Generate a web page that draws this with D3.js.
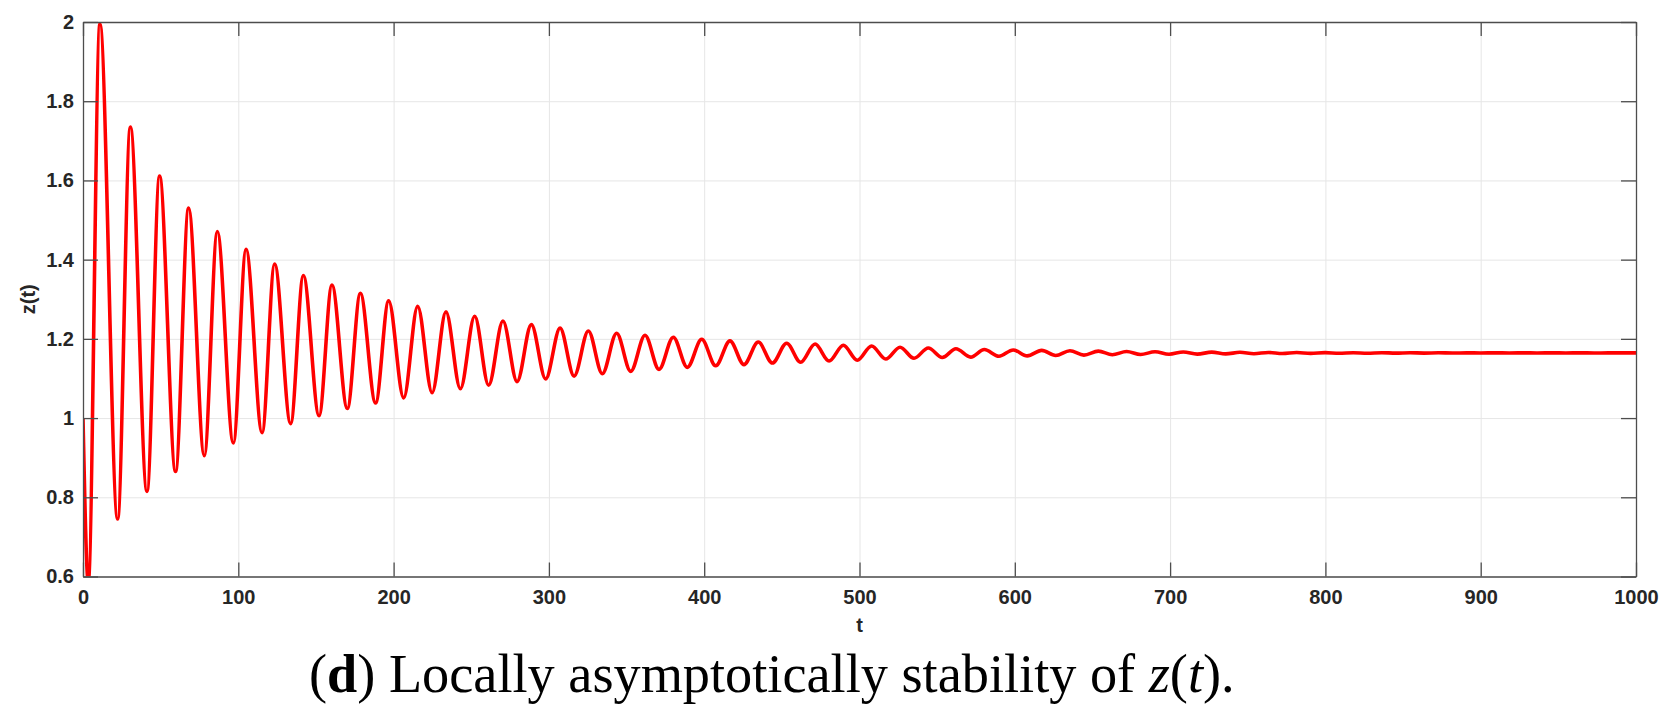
<!DOCTYPE html>
<html>
<head>
<meta charset="utf-8">
<script src="https://cdn.jsdelivr.net/npm/d3@7"></script>
<style>
  body { margin: 0; background: #fff; }
  .axis text { font-family: 'Liberation Sans', Arial, sans-serif; font-weight: bold; font-size: 20px; fill: #262626; }
  .axis path, .axis line { stroke: #4d4d4d; stroke-width: 1.3; }
  .grid line { stroke: #e6e6e6; stroke-width: 1; }
  .grid path { display: none; }
</style>
</head>
<body>
<div id="chart"></div>
<script>
// start of the run
const startT = [0]
const startZ = [1]

// troughs
const troughT = [3.4, 22.3, 41.2, 59.6, 78.1, 96.8, 115.3, 133.7, 152, 170.2, 188.4, 206.5, 224.8, 243, 261.2,
  279.5, 297.9, 316.2, 334.4, 352.7, 370.9, 389.1, 407.4, 425.6, 443.9, 462.1, 480.4, 498.6, 516.9, 535.1,
  553.3, 571.6, 589.8, 608, 626.3, 644.5, 662.8, 681, 699.3, 717.5, 735.8, 754, 772.3, 790.5, 808.8, 827,
  845.3, 863.5, 881.8, 900, 918.3, 936.5, 954.8, 973, 991.3]
const troughZ = [0.585, 0.745, 0.815, 0.865, 0.905, 0.937, 0.963, 0.986, 1.006, 1.024, 1.038, 1.051, 1.064, 1.074, 1.083,
  1.092, 1.099, 1.106, 1.112, 1.118, 1.123, 1.128, 1.132, 1.135, 1.139, 1.141, 1.144, 1.146, 1.149, 1.151,
  1.153, 1.154, 1.156, 1.157, 1.158, 1.159, 1.160, 1.1605, 1.161, 1.1615, 1.162, 1.1625, 1.163, 1.1633, 1.1636, 1.1638,
  1.164, 1.1641, 1.1642, 1.1643, 1.1643, 1.1644, 1.1644, 1.1644, 1.1645]

// peaks
const peakT = [10.9, 30.5, 49.3, 68, 86.5, 105, 123.4, 141.9, 160.3, 178.6, 196.8, 215.5, 233.7, 252.2, 270.4,
  288.7, 307.2, 325.4, 343.6, 361.9, 380.1, 398.4, 416.6, 434.8, 453.1, 471.4, 489.6, 507.8, 526.1, 544.3,
  562.1, 580.4, 599, 617.3, 635.5, 653.8, 672, 690.3, 708.5, 726.8, 745, 763.3, 781.5, 799.8, 818, 836.3,
  854.5, 872.8, 891, 909.3, 927.5, 945.8, 964, 982.3]
const peakZ = [1.995, 1.735, 1.611, 1.530, 1.471, 1.426, 1.389, 1.360, 1.336, 1.315, 1.296, 1.282, 1.268, 1.257, 1.245,
  1.236, 1.227, 1.220, 1.214, 1.209, 1.204, 1.199, 1.195, 1.192, 1.189, 1.187, 1.184, 1.182, 1.179, 1.177,
  1.175, 1.173, 1.172, 1.171, 1.170, 1.169, 1.168, 1.1675, 1.167, 1.1665, 1.166, 1.1657, 1.1655, 1.1653, 1.1651, 1.165,
  1.1649, 1.1648, 1.1647, 1.1647, 1.1646, 1.1646, 1.1646, 1.1645]

// end of the run
const endT = [1000]
const endZ = [1.1645]

const xTicks = [0, 100, 200, 300, 400, 500, 600, 700, 800, 900, 1000]
const xTickLabels = ['0', '100', '200', '300', '400', '500', '600', '700', '800', '900', '1000']
const yTicks = [0.6, 0.8, 1, 1.2, 1.4, 1.6, 1.8, 2]
const yTickLabels = ['0.6', '0.8', '1', '1.2', '1.4', '1.6', '1.8', '2']

const margin = { top: 22, left: 83, right: 39, bottom: 143.5 }
const totalWidth = 1675
const totalHeight = 720
const width = totalWidth - margin.left - margin.right
const height = totalHeight - margin.top - margin.bottom

const root = d3
  .select('#chart')
  .append('svg')
  .attr('width', totalWidth)
  .attr('height', totalHeight)

const svg = root
  .append('g')
  .attr('transform', 'translate(' + margin.left + ',' + margin.top + ')')

const xPositionScale = d3.scaleLinear().domain([0, 1000]).range([0, width])
const yPositionScale = d3.scaleLinear().domain([0.6, 2]).range([height, 0])

// grid
svg
  .append('g')
  .attr('class', 'grid')
  .attr('transform', 'translate(0,' + height + ')')
  .call(d3.axisBottom(xPositionScale).tickValues(xTicks).tickSize(-height).tickFormat(''))
svg
  .append('g')
  .attr('class', 'grid')
  .call(d3.axisLeft(yPositionScale).tickValues(yTicks).tickSize(-width).tickFormat(''))

// put all the points together in time order
const points = []
startT.forEach((t, i) => points.push({ t: t, z: startZ[i] }))
troughT.forEach((t, i) => points.push({ t: t, z: troughZ[i] }))
peakT.forEach((t, i) => points.push({ t: t, z: peakZ[i] }))
endT.forEach((t, i) => points.push({ t: t, z: endZ[i] }))
points.sort((a, b) => a.t - b.t)

svg
  .append('clipPath')
  .attr('id', 'plot-clip')
  .append('rect')
  .attr('width', width)
  .attr('height', height)

const line = d3
  .line()
  .x(d => xPositionScale(d.t))
  .y(d => yPositionScale(d.z))
  .curve(d3.curveMonotoneX)

svg
  .append('path')
  .datum(points)
  .attr('clip-path', 'url(#plot-clip)')
  .attr('d', line)
  .attr('fill', 'none')
  .attr('stroke', '#ff0000')
  .attr('stroke-width', 3.6)
  .attr('stroke-linejoin', 'round')

// box axes, ticks point inward like matlab
const xAxis = d3
  .axisBottom(xPositionScale)
  .tickValues(xTicks)
  .tickFormat((d, i) => xTickLabels[i])
  .tickSizeInner(-14)
  .tickSizeOuter(0)
  .tickPadding(13)
svg
  .append('g')
  .attr('class', 'axis x-axis')
  .attr('transform', 'translate(0,' + height + ')')
  .call(xAxis)

const yAxis = d3
  .axisLeft(yPositionScale)
  .tickValues(yTicks)
  .tickFormat((d, i) => yTickLabels[i])
  .tickSizeInner(-15)
  .tickSizeOuter(0)
  .tickPadding(9)
svg
  .append('g')
  .attr('class', 'axis y-axis')
  .call(yAxis)

svg
  .append('g')
  .attr('class', 'axis')
  .call(d3.axisTop(xPositionScale).tickValues(xTicks).tickSizeInner(-14).tickSizeOuter(0).tickFormat(''))
svg
  .append('g')
  .attr('class', 'axis')
  .attr('transform', 'translate(' + width + ',0)')
  .call(d3.axisRight(yPositionScale).tickValues(yTicks).tickSizeInner(-15).tickSizeOuter(0).tickFormat(''))

// axis titles
svg
  .append('text')
  .attr('x', width / 2)
  .attr('y', height + 55)
  .attr('text-anchor', 'middle')
  .style('font-family', "'Liberation Sans', Arial, sans-serif")
  .style('font-weight', 'bold')
  .style('font-size', '20px')
  .style('fill', '#262626')
  .text('t')

root
  .append('text')
  .attr('transform', 'translate(35,' + (margin.top + height / 2) + ') rotate(-90)')
  .attr('text-anchor', 'middle')
  .style('font-family', "'Liberation Sans', Arial, sans-serif")
  .style('font-weight', 'bold')
  .style('font-size', '20px')
  .style('fill', '#262626')
  .text('z(t)')

// caption under the figure
const caption = root
  .append('text')
  .attr('x', 309)
  .attr('y', 691.5)
  .style('font-family', "'Liberation Serif', 'Times New Roman', serif")
  .style('font-size', '50px')
  .style('fill', '#000')

caption.append('tspan').text('(')
caption.append('tspan').style('font-weight', 'bold').text('d')
caption.append('tspan').text(') Locally asymptotically stability of ')
caption.append('tspan').style('font-style', 'italic').text('z')
caption.append('tspan').text('(')
caption.append('tspan').style('font-style', 'italic').text('t')
caption.append('tspan').text(').')

// fit the caption to the width it has in the figure
const captionWidth = caption.node().getComputedTextLength()
caption.style('font-size', (50 * 926 / captionWidth) + 'px')
</script>
</body>
</html>
